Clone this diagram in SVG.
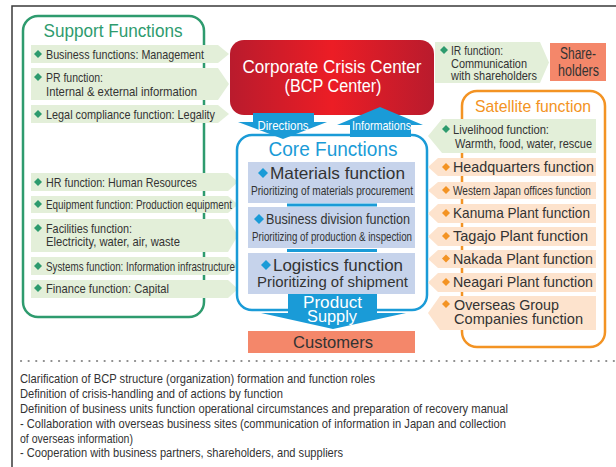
<svg xmlns="http://www.w3.org/2000/svg" width="616" height="467" viewBox="0 0 616 467">
<style>
.t{font-family:"Liberation Sans","Open Sans",Arial,sans-serif;fill:#333}
.w{fill:#fff}
.c{text-anchor:middle}
.gbar{fill:#e3efd9}
.obar{fill:#fde3cd}
.cbox{fill:#c6d3eb}
.blue{fill:#1a9bd7}
.salmon{fill:#f4876a}
</style>
<defs>
<linearGradient id="red" x1="0" y1="0" x2="1" y2="0">
<stop offset="0" stop-color="#b91b2d"/>
<stop offset="0.5" stop-color="#ec1d25"/>
<stop offset="1" stop-color="#b91b2d"/>
</linearGradient>
<polygon id="dg" points="0,-4 4,0 0,4 -4,0" fill="#2e9b6e"/>
<polygon id="do" points="0,-4 4,0 0,4 -4,0" fill="#f39323"/>
<polygon id="db" points="0,-5 5,0 0,5 -5,0" fill="#1a9bd7"/>
</defs>

<!-- frame -->
<g id="frame" fill="none" stroke="#3a3a3a" stroke-width="1.5">
<path d="M12,467 V6 H616"/>
</g>

<!-- Support functions -->
<g id="support">
<rect x="23" y="16" width="181" height="301" rx="15" fill="#fff" stroke="#2e9b6e" stroke-width="2.5"/>
<text class="t c" x="113" y="37" font-size="17.5" style="fill:#2e9b6e" textLength="139" lengthAdjust="spacingAndGlyphs">Support Functions</text>
</g>
<g id="s-business">
<polygon class="gbar" points="31,45 218,45 229,54 218,63 31,63"/>
<use href="#dg" x="38" y="54"/>
<text class="t" x="46" y="59" font-size="13.5" textLength="158" lengthAdjust="spacingAndGlyphs">Business functions: Management</text>
</g>
<g id="s-pr">
<polygon class="gbar" points="31,68 218,68 229,84 218,100 31,100"/>
<use href="#dg" x="38" y="77"/>
<text class="t" x="46" y="82" font-size="13.5" textLength="57" lengthAdjust="spacingAndGlyphs">PR function:</text>
<text class="t" x="46" y="96" font-size="13.5" textLength="151" lengthAdjust="spacingAndGlyphs">Internal &amp; external information</text>
</g>
<g id="s-legal">
<polygon class="gbar" points="31,105 218,105 229,114 218,123 31,123"/>
<use href="#dg" x="38" y="114"/>
<text class="t" x="46" y="119" font-size="13.5" textLength="169" lengthAdjust="spacingAndGlyphs">Legal compliance function: Legality</text>
</g>
<g id="s-hr">
<polygon class="gbar" points="31,173 228,173 238,182 228,191 31,191"/>
<use href="#dg" x="38" y="182"/>
<text class="t" x="46" y="187" font-size="13.5" textLength="151" lengthAdjust="spacingAndGlyphs">HR function: Human Resources</text>
</g>
<g id="s-equipment">
<polygon class="gbar" points="31,196 228,196 238,204.5 228,213 31,213"/>
<use href="#dg" x="38" y="204"/>
<text class="t" x="46" y="209" font-size="13.5" textLength="186" lengthAdjust="spacingAndGlyphs">Equipment function: Production equipment</text>
</g>
<g id="s-facilities">
<polygon class="gbar" points="31,219 228,219 238,235.5 228,252 31,252"/>
<use href="#dg" x="38" y="228"/>
<text class="t" x="46" y="233" font-size="13.5" textLength="86" lengthAdjust="spacingAndGlyphs">Facilities function:</text>
<text class="t" x="46" y="246" font-size="13.5" textLength="134" lengthAdjust="spacingAndGlyphs">Electricity, water, air, waste</text>
</g>
<g id="s-systems">
<polygon class="gbar" points="31,257 228,257 238,266 228,275 31,275"/>
<use href="#dg" x="38" y="266"/>
<text class="t" x="46" y="271" font-size="13.5" textLength="189" lengthAdjust="spacingAndGlyphs">Systems function: Information infrastructure</text>
</g>
<g id="s-finance">
<polygon class="gbar" points="31,280 228,280 238,289 228,298 31,298"/>
<use href="#dg" x="38" y="288"/>
<text class="t" x="46" y="293" font-size="13.5" textLength="123" lengthAdjust="spacingAndGlyphs">Finance function: Capital</text>
</g>

<!-- Crisis center -->
<g id="crisis">
<rect x="230" y="40" width="204" height="75" rx="14" fill="url(#red)"/>
<text class="t w c" x="332" y="73" font-size="18" textLength="179" lengthAdjust="spacingAndGlyphs">Corporate Crisis Center</text>
<text class="t w c" x="333" y="92" font-size="18" textLength="97" lengthAdjust="spacingAndGlyphs">(BCP Center)</text>
</g>

<!-- Core functions -->
<g id="core">
<rect x="237" y="135" width="190" height="175" rx="15" fill="#fff" stroke="#1a9bd7" stroke-width="2.5"/>
<text class="t c" x="333" y="156" font-size="19.5" style="fill:#1a9bd7" textLength="129" lengthAdjust="spacingAndGlyphs">Core Functions</text>
<line x1="287" y1="205" x2="377" y2="205" stroke="#1a9bd7" stroke-width="3"/>
<line x1="287" y1="250.5" x2="377" y2="250.5" stroke="#1a9bd7" stroke-width="3"/>
</g>
<g id="c-materials">
<rect class="cbox" x="248" y="162" width="167" height="41"/>
<use href="#db" x="263" y="173"/>
<text class="t" x="270" y="179" font-size="16.5" textLength="135" lengthAdjust="spacingAndGlyphs">Materials function</text>
<text class="t c" x="332" y="195" font-size="13" textLength="162" lengthAdjust="spacingAndGlyphs">Prioritizing of materials procurement</text>
</g>
<g id="c-business">
<rect class="cbox" x="248" y="207" width="167" height="41"/>
<use href="#db" x="259" y="219"/>
<text class="t" x="266" y="224" font-size="15.5" textLength="144" lengthAdjust="spacingAndGlyphs">Business division function</text>
<text class="t c" x="332" y="240.5" font-size="13" textLength="160" lengthAdjust="spacingAndGlyphs">Prioritizing of production &amp; inspection</text>
</g>
<g id="c-logistics">
<rect class="cbox" x="248" y="253" width="167" height="41"/>
<use href="#db" x="266" y="265"/>
<text class="t" x="273" y="270.5" font-size="16.5" textLength="130" lengthAdjust="spacingAndGlyphs">Logistics function</text>
<text class="t c" x="332.5" y="286.5" font-size="15" textLength="151" lengthAdjust="spacingAndGlyphs">Prioritizing of shipment</text>
</g>

<!-- Customers -->
<g id="customers">
<rect class="salmon" x="248" y="331" width="167" height="22"/>
<text class="t c" x="333" y="347.5" font-size="17" textLength="80" lengthAdjust="spacingAndGlyphs">Customers</text>
</g>

<!-- IR / shareholders -->
<g id="r-ir">
<polygon class="gbar" points="435,42 540,42 549,62.5 540,83 435,83"/>
<use href="#dg" x="444" y="50"/>
<text class="t" x="451" y="55" font-size="13.5" textLength="52" lengthAdjust="spacingAndGlyphs">IR function:</text>
<text class="t" x="451" y="67.5" font-size="13.5" textLength="76" lengthAdjust="spacingAndGlyphs">Communication</text>
<text class="t" x="451" y="80" font-size="13.5" textLength="86" lengthAdjust="spacingAndGlyphs">with shareholders</text>
</g>
<g id="shareholders">
<rect class="salmon" x="550" y="43" width="56" height="38"/>
<text class="t c" x="578" y="59" font-size="16.5" textLength="36" lengthAdjust="spacingAndGlyphs">Share-</text>
<text class="t c" x="578.5" y="76" font-size="16.5" textLength="41" lengthAdjust="spacingAndGlyphs">holders</text>
</g>

<!-- Satellite -->
<g id="satellite">
<rect x="462" y="91" width="143" height="256" rx="15" fill="#fff" stroke="#f39323" stroke-width="2.5"/>
<text class="t c" x="533" y="111.5" font-size="17" style="fill:#f39323" textLength="116" lengthAdjust="spacingAndGlyphs">Satellite function</text>
</g>
<g id="r-livelihood">
<polygon class="gbar" points="428,136 442,119 596,119 596,153 442,153"/>
<use href="#dg" x="446" y="129"/>
<text class="t" x="453" y="134" font-size="13.5" textLength="96" lengthAdjust="spacingAndGlyphs">Livelihood function:</text>
<text class="t" x="455" y="148" font-size="13.5" textLength="137" lengthAdjust="spacingAndGlyphs">Warmth, food, water, rescue</text>
</g>
<g id="r-hq">
<polygon class="obar" points="428,167 438,158 596,158 596,176 438,176"/>
<use href="#do" x="446" y="167"/>
<text class="t" x="453" y="172" font-size="14.5" textLength="141" lengthAdjust="spacingAndGlyphs">Headquarters function</text>
</g>
<g id="r-western">
<polygon class="obar" points="428,190.5 438,182 596,182 596,199 438,199"/>
<use href="#do" x="446" y="190"/>
<text class="t" x="453" y="195" font-size="13.5" textLength="138" lengthAdjust="spacingAndGlyphs">Western Japan offices function</text>
</g>
<g id="r-kanuma">
<polygon class="obar" points="428,213.5 438,204 596,204 596,223 438,223"/>
<use href="#do" x="446" y="213"/>
<text class="t" x="453" y="218" font-size="14.5" textLength="137" lengthAdjust="spacingAndGlyphs">Kanuma Plant function</text>
</g>
<g id="r-tagajo">
<polygon class="obar" points="428,236.5 438,227 596,227 596,246 438,246"/>
<use href="#do" x="446" y="236"/>
<text class="t" x="453" y="241" font-size="14.5" textLength="135" lengthAdjust="spacingAndGlyphs">Tagajo Plant function</text>
</g>
<g id="r-nakada">
<polygon class="obar" points="428,259 438,250 596,250 596,268 438,268"/>
<use href="#do" x="446" y="258.5"/>
<text class="t" x="453" y="263.5" font-size="14.5" textLength="140" lengthAdjust="spacingAndGlyphs">Nakada Plant function</text>
</g>
<g id="r-neagari">
<polygon class="obar" points="428,282.5 438,273 596,273 596,292 438,292"/>
<use href="#do" x="446" y="282"/>
<text class="t" x="453" y="287" font-size="14.5" textLength="140" lengthAdjust="spacingAndGlyphs">Neagari Plant function</text>
</g>
<g id="r-overseas">
<polygon class="obar" points="428,313 440,296 596,296 596,330 440,330"/>
<use href="#do" x="446" y="304"/>
<text class="t" x="454" y="309.5" font-size="15" textLength="105" lengthAdjust="spacingAndGlyphs">Overseas Group</text>
<text class="t" x="454" y="323.5" font-size="15" textLength="129" lengthAdjust="spacingAndGlyphs">Companies function</text>
</g>

<!-- connectors -->
<g id="connectors">
<polygon class="blue" points="253,113 314,113 314,122 327,122 283,139 238,122 253,122"/>
<text class="t w c" x="283" y="129.5" font-size="13.5" textLength="51" lengthAdjust="spacingAndGlyphs">Directions</text>
<polygon class="blue" points="380,107 423,125 411,125 411,137 350,137 350,125 337,125"/>
<text class="t w c" x="381.5" y="129.5" font-size="13.5" textLength="59" lengthAdjust="spacingAndGlyphs">Informations</text>
<polygon class="blue" points="288,294 377,294 377,313 406,313 333,329 261,313 288,313"/>
<text class="t w c" x="332.5" y="308" font-size="16" textLength="59" lengthAdjust="spacingAndGlyphs">Product</text>
<text class="t w c" x="332" y="321.5" font-size="16" textLength="50" lengthAdjust="spacingAndGlyphs">Supply</text>
</g>

<!-- separator -->
<line x1="21" y1="361" x2="616" y2="361" stroke="#8a8a8a" stroke-width="2.2" stroke-dasharray="0.1 7.5" stroke-linecap="round"/>

<!-- notes -->
<g id="notes">
<text class="t" x="20" y="382.5" font-size="13.5" textLength="355" lengthAdjust="spacingAndGlyphs">Clarification of BCP structure (organization) formation and function roles</text>
<text class="t" x="20" y="397.5" font-size="13.5" textLength="263" lengthAdjust="spacingAndGlyphs">Definition of crisis-handling and of actions by function</text>
<text class="t" x="20" y="412.5" font-size="13.5" textLength="488" lengthAdjust="spacingAndGlyphs">Definition of business units function operational circumstances and preparation of recovery manual</text>
<text class="t" x="20" y="427.5" font-size="13.5" textLength="486" lengthAdjust="spacingAndGlyphs">- Collaboration with overseas business sites (communication of information in Japan and collection</text>
<text class="t" x="20" y="442.5" font-size="13.5" textLength="113" lengthAdjust="spacingAndGlyphs">of overseas information)</text>
<text class="t" x="20" y="457" font-size="13.5" textLength="323" lengthAdjust="spacingAndGlyphs">- Cooperation with business partners, shareholders, and suppliers</text>
</g>
</svg>
